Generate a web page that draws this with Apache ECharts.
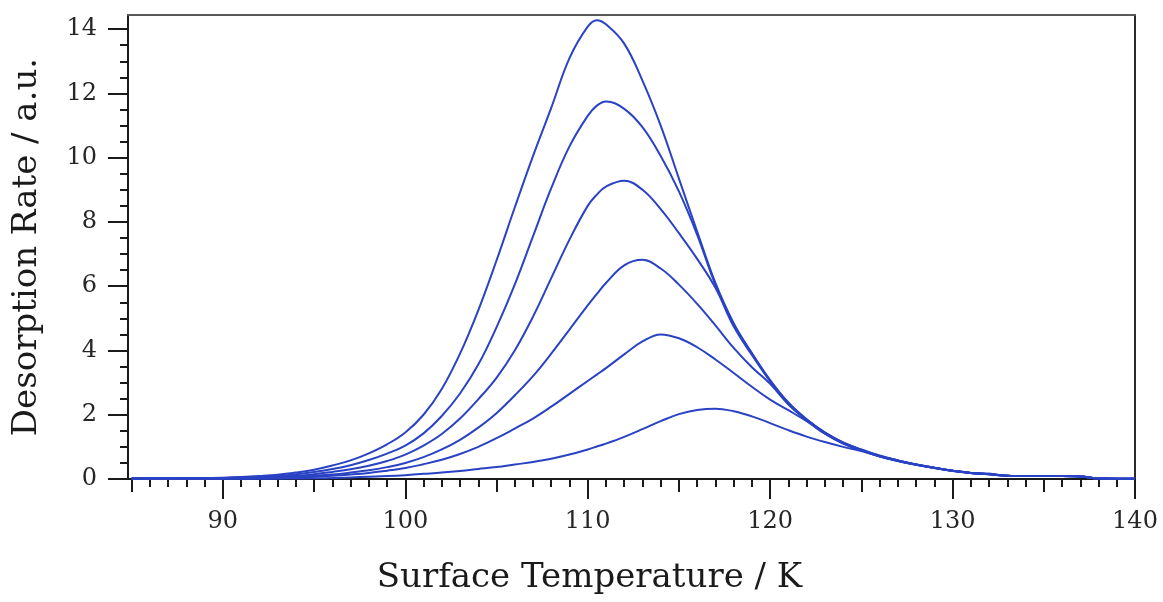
<!DOCTYPE html>
<html>
<head>
<meta charset="utf-8">
<style>
  html, body { margin: 0; padding: 0; background: #ffffff; }
  #chart { width: 1163px; height: 602px; }
</style>
<script src="https://cdn.jsdelivr.net/npm/echarts@6.0.0/dist/echarts.min.js"></script>
</head>
<body>
<div id="chart"></div>
<script>
// ---- data ----
const temps = [85,86,87,88,89,90,91,92,93,94,95,96,97,98,99,100,101,102,103,104,105,106,107,108,109,110,110.5,111,112,113,114,115,116,117,118,119,120,121,122,123,124,125,126,127,128,129,130,131,132,133,134,135,136,137,138,139,140];

const curve1 = [0.02,0.02,0.02,0.02,0.03,0.04,0.06,0.09,0.13,0.20,0.29,0.42,0.58,0.80,1.08,1.45,2.00,2.80,3.90,5.25,6.80,8.45,10.05,11.55,13.10,14.08,14.28,14.15,13.55,12.40,11.00,9.35,7.70,6.10,4.85,3.92,3.08,2.38,1.86,1.45,1.14,0.92,0.73,0.58,0.45,0.35,0.26,0.19,0.16,0.10,0.09,0.09,0.09,0.08,0.02,0.01,0.01];
const curve2 = [0.02,0.02,0.02,0.02,0.02,0.03,0.05,0.07,0.10,0.15,0.22,0.31,0.43,0.59,0.79,1.04,1.42,1.96,2.66,3.56,4.72,6.05,7.55,9.05,10.35,11.30,11.62,11.75,11.52,10.95,10.05,8.95,7.60,6.05,4.82,3.90,3.06,2.36,1.85,1.44,1.13,0.91,0.72,0.58,0.45,0.35,0.26,0.19,0.16,0.10,0.09,0.09,0.09,0.08,0.02,0.01,0.01];
const curve3 = [0.01,0.01,0.01,0.02,0.02,0.02,0.03,0.05,0.07,0.10,0.15,0.22,0.30,0.41,0.56,0.76,1.04,1.40,1.88,2.48,3.15,4.00,5.05,6.25,7.45,8.50,8.85,9.10,9.28,9.00,8.40,7.65,6.85,5.95,4.75,3.86,3.04,2.35,1.84,1.43,1.12,0.90,0.71,0.57,0.45,0.35,0.26,0.19,0.15,0.10,0.09,0.09,0.09,0.08,0.02,0.01,0.01];
const curve4 = [0.01,0.01,0.01,0.01,0.01,0.015,0.02,0.03,0.05,0.07,0.10,0.14,0.20,0.27,0.37,0.50,0.68,0.92,1.22,1.60,2.05,2.60,3.20,3.90,4.65,5.40,5.76,6.10,6.65,6.82,6.55,6.05,5.45,4.78,4.08,3.48,2.96,2.32,1.83,1.42,1.11,0.89,0.71,0.57,0.45,0.35,0.26,0.19,0.15,0.10,0.09,0.09,0.09,0.08,0.02,0.01,0.01];
const curve5 = [0.01,0.01,0.01,0.01,0.01,0.01,0.015,0.02,0.03,0.05,0.07,0.10,0.14,0.19,0.26,0.34,0.46,0.60,0.78,1.00,1.27,1.57,1.88,2.25,2.65,3.05,3.25,3.45,3.88,4.28,4.50,4.38,4.10,3.72,3.30,2.87,2.47,2.14,1.80,1.41,1.10,0.89,0.70,0.56,0.44,0.34,0.26,0.19,0.15,0.10,0.09,0.09,0.09,0.08,0.02,0.01,0.01];
const curve6 = [0.005,0.005,0.005,0.005,0.005,0.005,0.005,0.005,0.01,0.015,0.02,0.03,0.05,0.07,0.09,0.12,0.16,0.20,0.25,0.31,0.37,0.45,0.53,0.63,0.76,0.92,1.01,1.10,1.31,1.55,1.80,2.02,2.15,2.19,2.11,1.95,1.74,1.52,1.32,1.15,1.00,0.87,0.71,0.56,0.44,0.34,0.25,0.19,0.15,0.10,0.09,0.09,0.09,0.08,0.02,0.01,0.01];

const xMajorTicks = [90,100,110,120,130,140];
const xMediumTicks = [85,95,105,115,125,135];
const xMinorTicks = [86,87,88,89,91,92,93,94,96,97,98,99,101,102,103,104,106,107,108,109,111,112,113,114,116,117,118,119,121,122,123,124,126,127,128,129,131,132,133,134,136,137,138,139];
const yMajorTicks = [0,2,4,6,8,10,12,14];
const yMinorTicks = [0.5,1,1.5,2.5,3,3.5,4.5,5,5.5,6.5,7,7.5,8.5,9,9.5,10.5,11,11.5,12.5,13,13.5];

const xTitle = 'Surface Temperature / K';
const yTitle = 'Desorption Rate / a.u.';

// ---- chart ----
const curves = [curve1, curve2, curve3, curve4, curve5, curve6];
const FONT = 'DejaVu Serif';
const X_MIN = 84.8, X_MAX = 140, Y_MIN = 0, Y_MAX = 14.44;

function pairs(vals) { return temps.map((t, i) => [t, vals[i]]); }

const baseX = { type: 'value', min: X_MIN, max: X_MAX, splitLine: { show: false } };
const baseY = { type: 'value', min: Y_MIN, max: Y_MAX, splitLine: { show: false } };

const chart = echarts.init(document.getElementById('chart'), null, { renderer: 'canvas' });
chart.setOption({
  backgroundColor: '#ffffff',
  animation: false,
  grid: { left: 128, right: 28, top: 15, bottom: 123, containLabel: false },
  xAxis: [
    Object.assign({}, baseX, {
      position: 'bottom',
      name: xTitle, nameLocation: 'middle', nameGap: 82,
      nameTextStyle: { fontFamily: FONT, fontSize: 34, color: '#1a1a1a', padding: [0, 84, 0, 0] },
      axisLine: { show: true, onZero: false, lineStyle: { color: '#1a1a1a', width: 2 } },
      axisTick: { show: true, customValues: xMajorTicks, length: 20, lineStyle: { color: '#1a1a1a', width: 2 } },
      axisLabel: { show: true, customValues: xMajorTicks, margin: 31, fontFamily: FONT, fontSize: 24, color: '#262626' }
    }),
    Object.assign({}, baseX, {
      position: 'bottom',
      axisLine: { show: false, onZero: false },
      axisTick: { show: true, customValues: xMediumTicks, length: 13, lineStyle: { color: '#1a1a1a', width: 2 } },
      axisLabel: { show: false }
    }),
    Object.assign({}, baseX, {
      position: 'bottom',
      axisLine: { show: false, onZero: false },
      axisTick: { show: true, customValues: xMinorTicks, length: 8, lineStyle: { color: '#1a1a1a', width: 2 } },
      axisLabel: { show: false }
    }),
    Object.assign({}, baseX, {
      position: 'top',
      axisLine: { show: true, onZero: false, lineStyle: { color: '#5a5a5a', width: 2 } },
      axisTick: { show: false },
      axisLabel: { show: false }
    })
  ],
  yAxis: [
    Object.assign({}, baseY, {
      position: 'left',
      name: yTitle, nameLocation: 'middle', nameGap: 84,
      nameTextStyle: { fontFamily: FONT, fontSize: 34, color: '#1a1a1a' },
      axisLine: { show: true, onZero: false, lineStyle: { color: '#1a1a1a', width: 2 } },
      axisTick: { show: true, customValues: yMajorTicks, length: 20, lineStyle: { color: '#1a1a1a', width: 2 } },
      axisLabel: { show: true, customValues: yMajorTicks, margin: 31, fontFamily: FONT, fontSize: 24, color: '#262626' }
    }),
    Object.assign({}, baseY, {
      position: 'left',
      axisLine: { show: false, onZero: false },
      axisTick: { show: true, customValues: yMinorTicks, length: 8, lineStyle: { color: '#1a1a1a', width: 2 } },
      axisLabel: { show: false }
    }),
    Object.assign({}, baseY, {
      position: 'right',
      axisLine: { show: true, onZero: false, lineStyle: { color: '#2a2a2a', width: 2 } },
      axisTick: { show: false },
      axisLabel: { show: false }
    })
  ],
  series: curves.map((c, i) => ({
    type: 'line',
    name: 'curve' + (i + 1),
    xAxisIndex: 0,
    yAxisIndex: 0,
    data: pairs(c),
    smooth: 0.4,
    showSymbol: false,
    symbol: 'none',
    clip: true,
    lineStyle: { color: '#2a42c4', width: 2 },
    z: 3
  }))
});
</script>
</body>
</html>
